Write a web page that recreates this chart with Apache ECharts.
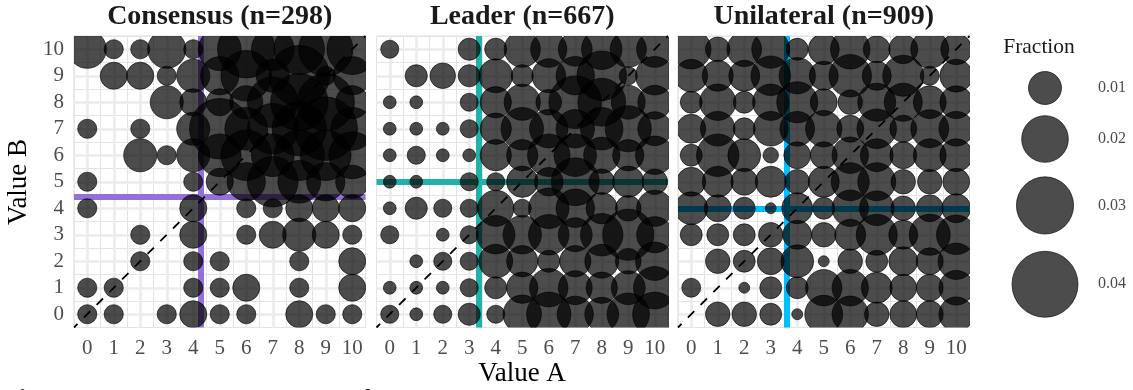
<!DOCTYPE html>
<html><head><meta charset="utf-8">
<style>html,body{margin:0;padding:0;background:#fff;overflow:hidden}#c{width:1133px;height:390px}</style>
<script src="https://cdn.jsdelivr.net/npm/echarts@6/dist/echarts.min.js"></script>
</head><body><div id="c"></div>
<script>
const panelTitles = ['Consensus (n=298)', 'Leader (n=667)', 'Unilateral (n=909)'];
const panelN = [298, 667, 909];
const tickValues = [0,1,2,3,4,5,6,7,8,9,10];
const lineColors = ['#9370DB', '#20B2AA', '#00BFFF'];
const vLines = [4.27, 3.37, 3.6];
const hLines = [4.45, 5.0, 3.98];
// respondent counts per cell, rows from Value B = 10 down to 0, columns Value A = 0..10
const consensusCounts = [
 [4,1,1,4,1,5,9,5,7,8,7],
 [0,2,2,1,3,4,7,3,10,1,4],
 [0,0,0,3,2,2,3,7,9,9,3],
 [1,0,1,0,3,10,5,7,8,11,5],
 [0,0,3,1,3,5,7,5,7,7,6],
 [1,0,0,0,1,2,4,7,5,4,3],
 [1,0,0,0,2,0,1,1,2,2,2],
 [0,0,1,0,2,0,1,2,3,2,1],
 [0,0,1,0,1,1,0,0,1,0,2],
 [1,1,0,0,1,1,2,0,1,0,2],
 [1,1,0,1,2,1,1,0,2,1,1]
];
const leaderCounts = [
 [2,0,0,3,3,8,8,7,10,8,8],
 [0,3,4,3,7,3,7,9,15,2,9],
 [1,1,0,2,6,8,4,17,14,7,7],
 [1,1,1,2,6,11,9,9,11,13,7],
 [1,2,1,1,6,6,11,11,8,6,9],
 [1,1,0,2,2,6,5,14,4,6,4],
 [1,3,2,2,8,2,10,9,6,4,8],
 [2,0,1,2,9,9,10,7,11,16,8],
 [0,1,2,2,7,6,3,6,7,4,9],
 [1,1,1,2,3,6,9,7,6,7,11],
 [2,1,2,3,2,9,12,8,7,11,12]
];
const unilateralCounts = [
 [13,5,10,12,4,8,13,6,7,12,8],
 [9,8,8,13,11,7,15,7,14,3,9],
 [4,11,4,11,14,6,5,12,12,9,9],
 [7,10,4,10,10,11,6,13,6,12,10],
 [4,15,9,2,6,6,11,9,6,9,9],
 [7,8,6,8,5,8,12,12,5,5,6],
 [9,6,4,1,8,4,11,10,5,6,7],
 [4,4,4,5,7,5,8,14,7,14,13],
 [0,5,4,6,9,1,5,4,7,6,11],
 [3,0,1,4,4,11,11,8,6,6,10],
 [0,5,5,4,1,12,11,5,6,6,10]
];
const legendFractions = [0.01, 0.02, 0.03, 0.04];

const SERIF = '"Liberation Serif","Times New Roman",serif';
const panelLeft = [74, 376.5, 678];
const panelSize = 291.5;
const panelTop = 36;
const sizeK = 330;
const allCounts = [consensusCounts, leaderCounts, unilateralCounts];
const bubbleStyle = {fill: 'rgba(0,0,0,0.7)', stroke: 'rgba(0,0,0,0.7)', lineWidth: 0.9};

const renderBubble = (params, api) => {
  const c = api.coord([api.value(0), api.value(1)]);
  return {type: 'circle', shape: {cx: c[0], cy: c[1], r: sizeK * Math.sqrt(api.value(2)) / 2},
    style: bubbleStyle, silent: true};
};

const grids = [], xAxes = [], yAxes = [], series = [], titles = [];
allCounts.forEach((rows, p) => {
  grids.push({left: panelLeft[p], top: panelTop, width: panelSize, height: panelSize, show: true,
    backgroundColor: '#fff', borderColor: '#dcdcdc', borderWidth: 1});
  const ax = (show) => ({
    type: 'value', gridIndex: p, min: -0.5, max: 10.5, interval: 0.5,
    axisLine: {show: false}, axisTick: {show: false},
    splitLine: {show: true, lineStyle: {color: '#e4e4e4', width: 1}},
    axisLabel: {show, color: '#4d4d4d', fontFamily: SERIF, fontSize: 21, margin: 10,
      showMinLabel: true, showMaxLabel: true, hideOverlap: false,
      formatter: v => Number.isInteger(v) ? String(v) : ''}
  });
  xAxes.push(ax(true));
  yAxes.push(ax(p === 0));
  titles.push({text: panelTitles[p], left: panelLeft[p] + panelSize / 2, top: 3, padding: 0, textAlign: 'center',
    textStyle: {fontFamily: SERIF, fontSize: 28, fontWeight: 'bold', color: '#1a1a1a'}});
  // major grid lines at the integer ticks
  series.push({type: 'line', xAxisIndex: p, yAxisIndex: p, data: [], z: 1, silent: true,
    markLine: {z: 1, silent: true, symbol: 'none', label: {show: false}, animation: false,
      lineStyle: {color: '#ebebeb', width: 2.6, type: 'solid'},
      data: tickValues.flatMap(t => [{xAxis: t}, {yAxis: t}])}});
  // threshold lines
  series.push({type: 'line', xAxisIndex: p, yAxisIndex: p, data: [], z: 2, silent: true,
    markLine: {z: 2, silent: true, symbol: 'none', label: {show: false}, animation: false,
      lineStyle: {color: lineColors[p], width: 6, type: 'solid', opacity: 1},
      data: [{xAxis: vLines[p]}, {yAxis: hLines[p]}]}});
  const pts = [];
  rows.forEach((row, r) => row.forEach((c, col) => {
    if (c > 0) pts.push([tickValues[col], tickValues[10 - r], c / panelN[p]]);
  }));
  series.push({type: 'custom', xAxisIndex: p, yAxisIndex: p, data: pts, z: 3, clip: true, silent: true,
    encode: {x: 0, y: 1}, renderItem: renderBubble});
  // diagonal reference line
  series.push({type: 'line', xAxisIndex: p, yAxisIndex: p, z: 4, silent: true, symbol: 'none',
    data: [[-0.5, -0.5], [10.5, 10.5]],
    lineStyle: {color: '#000', width: 1.8, type: [9, 9], dashOffset: 4}});
});

// size legend: keys stacked in ggplot style, each key 1.28 × its circle
const legendIdx = 3;
const keyD = legendFractions.map(f => sizeK * Math.sqrt(f));
let cursor = 88 - keyD[0] * 1.28 / 2;
const legendY = keyD.map(d => { const y = cursor + d * 1.28 / 2; cursor += d * 1.28; return y; });
grids.push({left: 992, top: 0, width: 106, height: 390, show: false});
xAxes.push({type: 'value', gridIndex: legendIdx, min: -1, max: 1, show: false});
yAxes.push({type: 'value', gridIndex: legendIdx, min: 0, max: 390, inverse: true, show: false});
series.push({type: 'custom', xAxisIndex: legendIdx, yAxisIndex: legendIdx, silent: true,
  data: legendFractions.map((f, i) => [0, legendY[i], f]),
  encode: {x: 0, y: 1}, renderItem: renderBubble});
series.push({type: 'scatter', xAxisIndex: legendIdx, yAxisIndex: legendIdx, silent: true, symbolSize: 0,
  data: legendFractions.map((f, i) => [1, legendY[i], f]),
  label: {show: true, position: 'right', distance: 0, formatter: p => p.value[2].toFixed(2),
    fontFamily: SERIF, fontSize: 16, color: '#1a1a1a'}});

titles.push({text: 'Fraction', left: 1039, top: 36, padding: 0, textAlign: 'center',
  textStyle: {fontFamily: SERIF, fontSize: 21.5, fontWeight: 'normal', color: '#1a1a1a'}});
titles.push({text: 'Value A', left: 522, top: 360, padding: 0, textAlign: 'center',
  textStyle: {fontFamily: SERIF, fontSize: 27, fontWeight: 'normal', color: '#000'}});

const chart = echarts.init(document.getElementById('c'), null, {renderer: 'canvas'});
chart.setOption({
  animation: false, backgroundColor: '#fff',
  title: titles, grid: grids, xAxis: xAxes, yAxis: yAxes, series,
  graphic: [
    {type: 'text', rotation: Math.PI / 2, x: 19, y: 182, style: {text: 'Value B', font: '27px ' + SERIF, fill: '#000', textAlign: 'center', textVerticalAlign: 'middle'}},
    {type: 'text', x: 0, y: 387, style: {text: 'Figure 4:', font: 'bold 30px ' + SERIF, fill: '#000', textAlign: 'left'}},
    {type: 'text', x: 133, y: 387, style: {text: 'Joint distribution of', font: '30px ' + SERIF, fill: '#000', textAlign: 'left'}}
  ]
});
</script></body></html>
